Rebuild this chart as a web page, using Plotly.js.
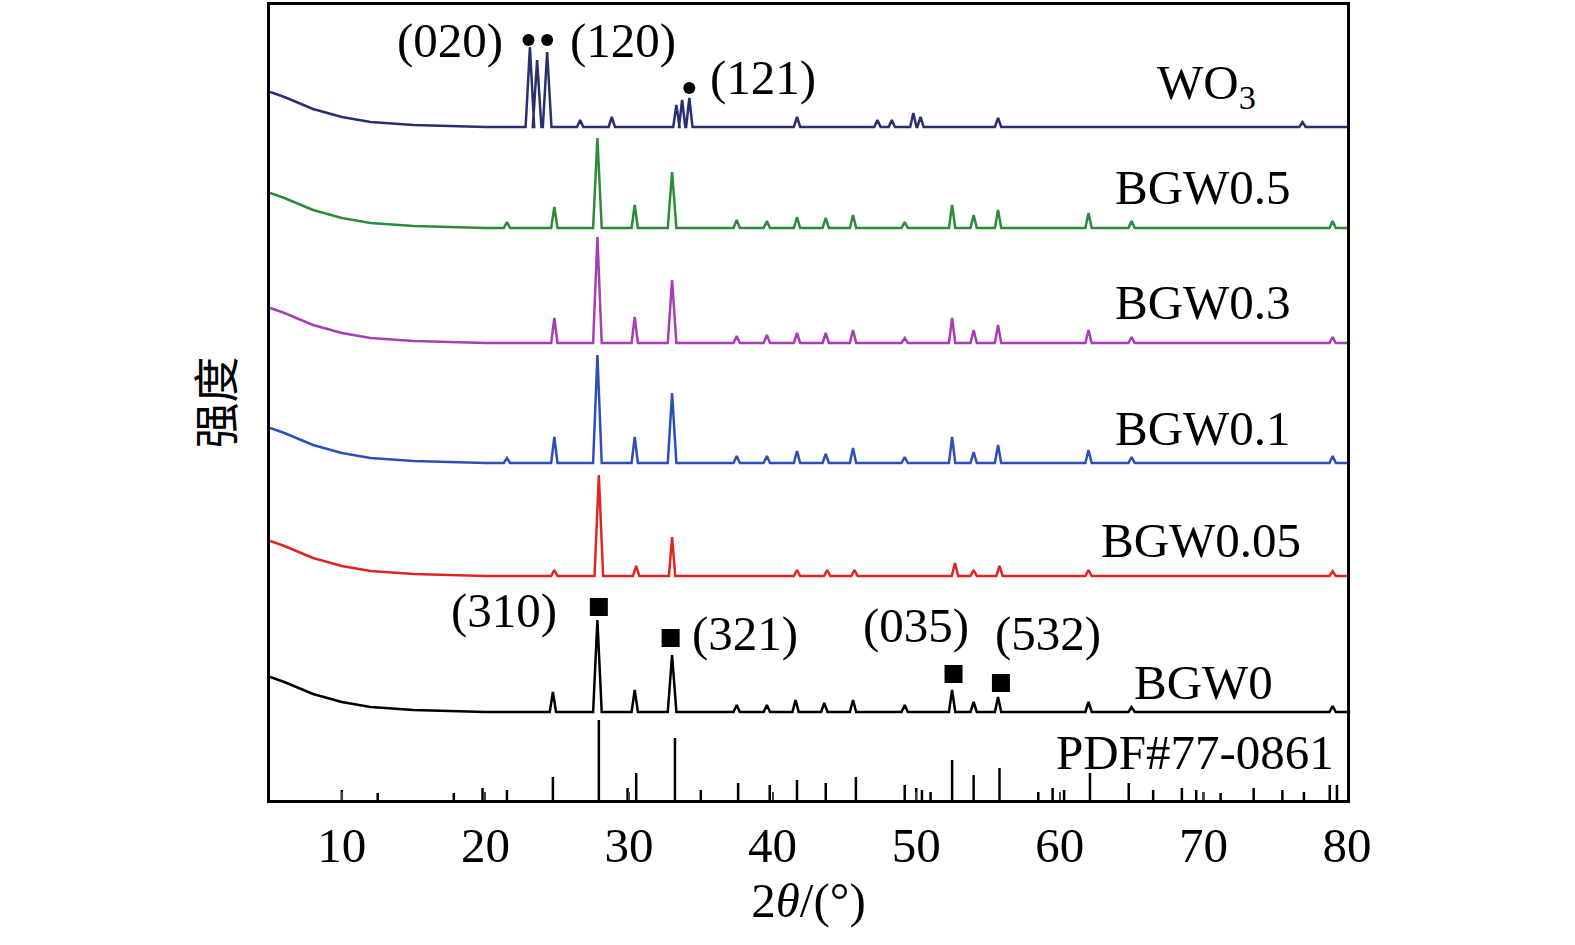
<!DOCTYPE html>
<html>
<head>
<meta charset="utf-8">
<script src="https://cdn.plot.ly/plotly-3.0.1.min.js"></script>
<style>body{margin:0;background:#fff}</style>
</head>
<body>
<div id="chart" style="width:1575px;height:945px"></div>
<script>
// y values are on an arbitrary intensity scale (stacked patterns)
var startX = [5, 6, 8, 10, 12, 15, 20];
var startRise = [35, 30, 18, 10, 5, 2, 0];

var wo3Base = 673;
var wo3Peaks = [23.1, 23.6, 24.3, 26.6, 28.8, 33.3, 33.7, 34.2, 41.7, 47.3, 48.3, 49.8, 50.3, 55.7, 76.9];
var wo3Tops = [753, 740, 748, 680, 683, 695, 700, 702, 683, 680, 680, 687, 683, 682, 678];

var bgw05Base = 572;
var bgw05Peaks = [21.5, 24.8, 27.8, 30.4, 33.0, 37.5, 39.6, 41.7, 43.7, 45.6, 49.2, 52.5, 54.0, 55.7, 62.0, 65.0, 79.0];
var bgw05Tops = [578, 593, 662, 595, 628, 580, 579, 583, 582, 585, 578, 595, 585, 590, 587, 579, 579];

var bgw03Base = 457;
var bgw03Peaks = [24.8, 27.8, 30.4, 33.0, 37.5, 39.6, 41.7, 43.7, 45.6, 49.2, 52.5, 54.0, 55.7, 62.0, 65.0, 79.0];
var bgw03Tops = [482, 563, 483, 520, 464, 465, 467, 467, 470, 462, 482, 470, 475, 470, 463, 463];

var bgw01Base = 337;
var bgw01Peaks = [21.5, 24.8, 27.8, 30.4, 33.0, 37.5, 39.6, 41.7, 43.7, 45.6, 49.2, 52.5, 54.0, 55.7, 62.0, 65.0, 79.0];
var bgw01Tops = [342, 363, 445, 363, 407, 344, 344, 349, 346, 352, 343, 363, 348, 355, 350, 343, 344];

var bgw005Base = 224;
var bgw005Peaks = [24.8, 27.9, 30.5, 33.0, 41.7, 43.8, 45.7, 52.7, 54.0, 55.8, 62.0, 79.0];
var bgw005Tops = [230, 325, 234, 263, 230, 230, 230, 237, 230, 234, 230, 229];

var bgw0Base = 88;
var bgw0Peaks = [24.7, 27.8, 30.4, 33.0, 37.5, 39.6, 41.6, 43.6, 45.6, 49.2, 52.5, 54.0, 55.7, 62.0, 65.0, 79.0];
var bgw0Tops = [108, 180, 110, 145, 95, 95, 100, 97, 100, 95, 110, 98, 103, 98, 93, 94];

var pdfPos = [10, 12.5, 17.8, 19.8, 21.5, 24.7, 27.9, 29.9, 30.5, 33.2, 35.0, 37.6, 39.8, 41.7, 43.7, 45.8, 49.2, 50.0, 50.4, 51.0, 52.5, 54.0, 55.8, 58.5, 59.5, 60.3, 62.1, 64.8, 66.5, 68.5, 69.5, 70.0, 71.2, 73.5, 75.5, 77.0, 78.8, 79.3];
var pdfInt = [10, 7, 7, 12, 10, 23, 80, 12, 27, 62, 10, 17, 15, 20, 17, 23, 15, 12, 10, 8, 40, 25, 32, 8, 12, 10, 27, 17, 10, 12, 10, 8, 7, 12, 10, 8, 15, 15];

var seriesNames = ['WO3', 'BGW0.5', 'BGW0.3', 'BGW0.1', 'BGW0.05', 'BGW0'];
var seriesColors = ['#2b2f6e', '#2e8b3a', '#a53fb3', '#2f4fb8', '#e02424', '#000000'];

function pattern(base, peaks, tops) {
  var x = [], y = [];
  for (var i = 0; i < startX.length; i++) { x.push(startX[i]); y.push(base + startRise[i]); }
  for (var j = 0; j < peaks.length; j++) {
    var w = (tops[j] - base) > 40 ? 0.3 : 0.22;
    x.push(peaks[j] - w, peaks[j], peaks[j] + w);
    y.push(base, tops[j], base);
  }
  x.push(80); y.push(base);
  return {x: x, y: y};
}

var sets = [[wo3Base, wo3Peaks, wo3Tops], [bgw05Base, bgw05Peaks, bgw05Tops], [bgw03Base, bgw03Peaks, bgw03Tops],
            [bgw01Base, bgw01Peaks, bgw01Tops], [bgw005Base, bgw005Peaks, bgw005Tops], [bgw0Base, bgw0Peaks, bgw0Tops]];
var traces = sets.map(function (s, k) {
  var p = pattern(s[0], s[1], s[2]);
  return {x: p.x, y: p.y, type: 'scatter', mode: 'lines', name: seriesNames[k],
          line: {color: seriesColors[k], width: 2.5}};
});

var sx = [], sy = [];
pdfPos.forEach(function (p, i) { sx.push(p, p, null); sy.push(0, pdfInt[i], null); });
traces.push({x: sx, y: sy, type: 'scatter', mode: 'lines', line: {color: '#000', width: 2.5}});

var dotX = [23.0, 24.3, 34.2], dotY = [760, 760, 712];
traces.push({x: dotX, y: dotY, type: 'scatter', mode: 'markers', marker: {color: '#000', size: 12, symbol: 'circle'}});
var sqX = [27.9, 32.9, 52.6, 55.9], sqY = [193, 162, 126, 117];
traces.push({x: sqX, y: sqY, type: 'scatter', mode: 'markers', marker: {color: '#000', size: 18, symbol: 'square'}});

var labelText = ['WO<sub>3</sub>', 'BGW0.5', 'BGW0.3', 'BGW0.1', 'BGW0.05', 'BGW0', 'PDF#77-0861',
                 '(020)', '(120)', '(121)', '(310)', '(321)', '(035)', '(532)'];
var labelX = [70.2, 70.0, 70.0, 70.0, 69.8, 70.0, 69.4, 17.5, 29.6, 39.3, 21.3, 38.1, 50.0, 59.2];
var labelY = [715, 613, 498, 372, 260, 118, 48, 760, 760, 723, 190, 167, 175, 167];

var font = {family: '"Liberation Serif", "Times New Roman", serif', size: 49, color: '#000'};
var annotations = labelText.map(function (t, i) {
  return {x: labelX[i], y: labelY[i], text: t, showarrow: false, font: font, xanchor: 'center', yanchor: 'middle'};
});

Plotly.newPlot('chart', traces, {
  width: 1575, height: 945,
  margin: {l: 270, r: 228, t: 5, b: 145},
  showlegend: false,
  paper_bgcolor: '#fff', plot_bgcolor: '#fff',
  font: font,
  annotations: annotations,
  xaxis: {range: [5, 80], tickvals: [10, 20, 30, 40, 50, 60, 70, 80], ticks: 'inside', ticklen: 8, tickwidth: 2,
          showline: true, linewidth: 2.5, linecolor: '#000', mirror: true, showgrid: false, zeroline: false,
          tickfont: font, title: {text: '2<i>θ</i>/(°)', font: font, standoff: 8}},
  yaxis: {range: [0, 795], showticklabels: false, ticks: '', showline: true, linewidth: 2.5, linecolor: '#000',
          mirror: true, showgrid: false, zeroline: false,
          title: {text: '强度', font: {family: '"Noto Sans CJK SC"', size: 46, color: '#000'}, standoff: 20}}
}, {displayModeBar: false});
</script>
</body>
</html>
